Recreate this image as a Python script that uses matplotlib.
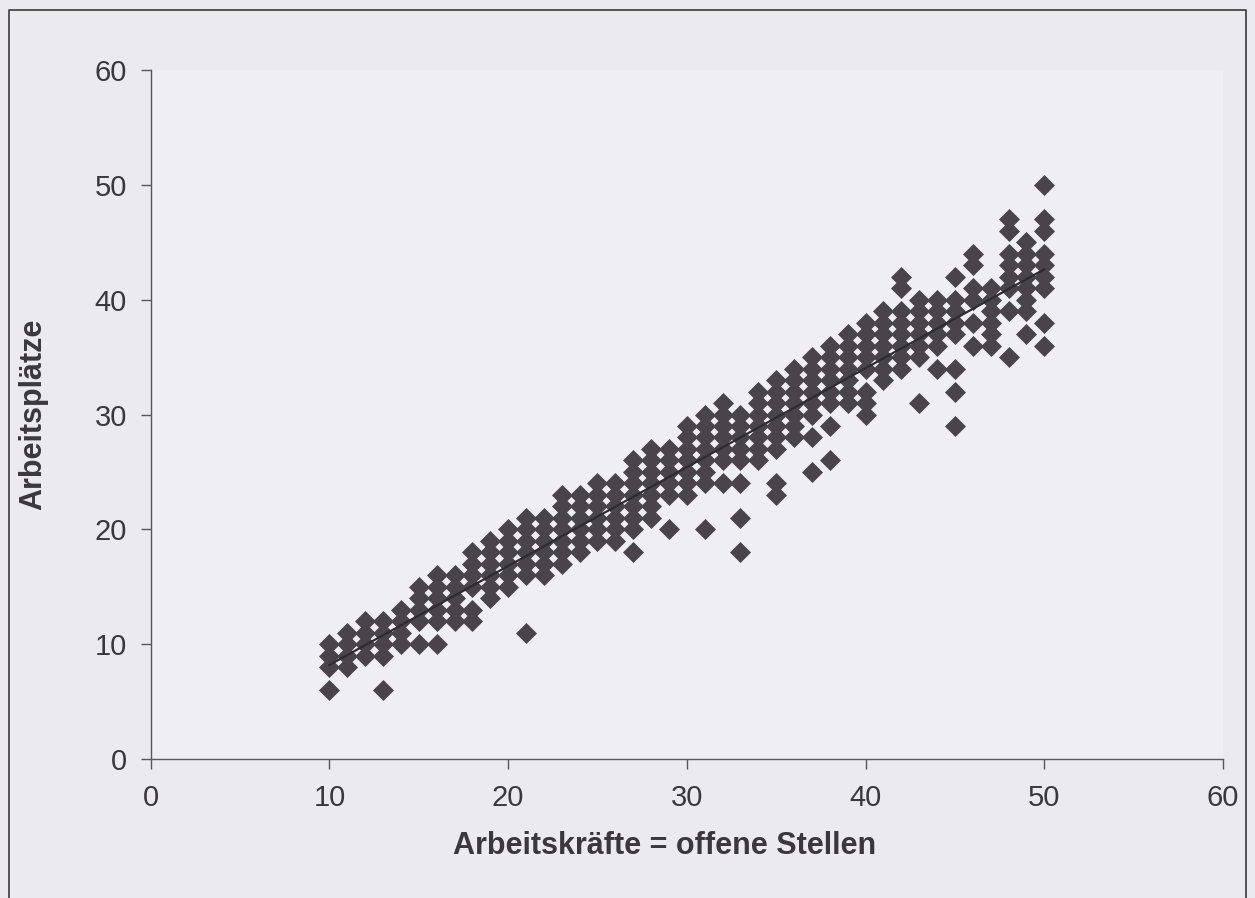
import matplotlib
matplotlib.use("Agg")
import matplotlib.pyplot as plt
from matplotlib.lines import Line2D
import numpy as np

# ---- data ----
columns = {
    10: [6, 8, 9, 10],
    11: [8, 9, 10, 11],
    12: [9, 10, 11, 12],
    13: [6, 9, 10, 11, 12],
    14: [10, 11, 12, 13],
    15: [10, 12, 13, 14, 15],
    16: [10, 12, 13, 14, 15, 16],
    17: [12, 13, 14, 15, 16],
    18: [12, 13, 15, 16, 17, 18],
    19: [14, 15, 16, 17, 18, 19],
    20: [15, 16, 17, 18, 19, 20],
    21: [11, 16, 17, 18, 19, 20, 21],
    22: [16, 17, 18, 19, 20, 21],
    23: [17, 18, 19, 20, 21, 22, 23],
    24: [18, 19, 20, 21, 22, 23],
    25: [19, 20, 21, 22, 23, 24],
    26: [19, 20, 21, 22, 23, 24],
    27: [18, 20, 21, 22, 23, 24, 25, 26],
    28: [21, 22, 23, 24, 25, 26, 27],
    29: [20, 23, 24, 25, 26, 27],
    30: [23, 24, 25, 26, 27, 28, 29],
    31: [20, 24, 25, 26, 27, 28, 29, 30],
    32: [24, 26, 27, 28, 29, 30, 31],
    33: [18, 21, 24, 26, 27, 28, 29, 30],
    34: [26, 27, 28, 29, 30, 31, 32],
    35: [23, 24, 27, 28, 29, 30, 31, 32, 33],
    36: [28, 29, 30, 31, 32, 33, 34],
    37: [25, 28, 30, 31, 32, 33, 34, 35],
    38: [26, 29, 31, 32, 33, 34, 35, 36],
    39: [31, 32, 33, 34, 35, 36, 37],
    40: [30, 31, 32, 34, 35, 36, 37, 38],
    41: [33, 34, 35, 36, 37, 38, 39],
    42: [34, 35, 36, 37, 38, 39, 41, 42],
    43: [31, 35, 36, 37, 38, 39, 40],
    44: [34, 36, 37, 38, 39, 40],
    45: [29, 32, 34, 37, 38, 39, 40, 42],
    46: [36, 38, 40, 41, 43, 44],
    47: [36, 37, 38, 39, 40, 41],
    48: [35, 39, 41, 42, 43, 44, 46, 47],
    49: [37, 39, 40, 41, 42, 43, 44, 45],
    50: [36, 38, 41, 42, 43, 44, 46, 47, 50],
}
x_vals = [x for x, ys in columns.items() for _ in ys]
y_vals = [y for ys in columns.values() for y in ys]

x_ticks = [0, 10, 20, 30, 40, 50, 60]
y_ticks = [0, 10, 20, 30, 40, 50, 60]
x_label = "Arbeitskräfte = offene Stellen"
y_label = "Arbeitsplätze"

# ---- style ----
W, H = 1255, 898
plt.rcParams["font.family"] = ["Liberation Sans", "DejaVu Sans"]
page = "#eaeaef"
ink = "#3a383c"
marker_col = "#48444a"
axis_col = "#58585c"

fig = plt.figure(figsize=(W / 100, H / 100), dpi=100, facecolor=page)
ax = fig.add_axes([150.7 / W, 1 - 759 / H, (1223 - 150.7) / W, (759 - 70) / H])
ax.set_facecolor("#eeeef3")

ax.scatter(np.array(x_vals), np.array(y_vals), marker="D", s=115,
           color=marker_col, linewidths=0, zorder=3)

# fitted trend line
coef = np.polyfit(np.array(x_vals, float), np.array(y_vals, float), 1)
xl = np.array([min(x_vals), max(x_vals)], float)
ax.plot(xl, np.polyval(coef, xl), color="#2e2c30", lw=1.6, zorder=4)

ax.set_xlim(0, 60)
ax.set_ylim(0, 60)
ax.set_xticks(x_ticks)
ax.set_yticks(y_ticks)
for s in ["top", "right"]:
    ax.spines[s].set_visible(False)
for s in ["left", "bottom"]:
    ax.spines[s].set_color(axis_col)
    ax.spines[s].set_linewidth(1.0)
ax.tick_params(axis="both", direction="out", length=7, width=1.0,
               color=axis_col, labelsize=21, labelcolor=ink)
ax.tick_params(axis="x", pad=11)
ax.tick_params(axis="y", pad=10)

fig.text(665 / W, 1 - 846 / H, x_label, ha="center", va="center",
         fontsize=22, fontweight="bold", color=ink)
fig.text(33 / W, 1 - 414 / H, y_label, ha="center", va="center",
         rotation=90, fontsize=22, fontweight="bold", color=ink)

# outer frame of the figure box (bottom edge lies outside the picture)
fx = [9 / W, 9 / W, 1246 / W, 1246 / W]
fy = [-0.01, 1 - 10 / H, 1 - 10 / H, -0.01]
fig.lines.append(Line2D(fx, fy, transform=fig.transFigure,
                        color="#3a3a3a", linewidth=1.2))

fig.savefig("out.png", dpi=100, facecolor=page)
